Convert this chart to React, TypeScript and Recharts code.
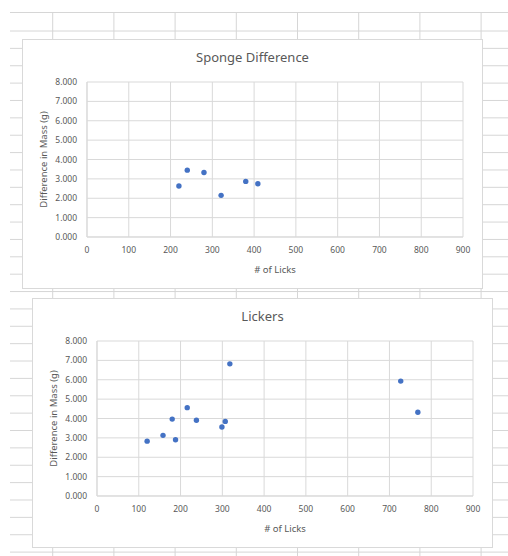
import { ScatterChart, Scatter, XAxis, YAxis, CartesianGrid } from "recharts";

// tick values
const licksTicks = [0, 100, 200, 300, 400, 500, 600, 700, 800, 900];
const massTicks = [0, 1, 2, 3, 4, 5, 6, 7, 8];

// Sponge Difference
const spongeLicks = [220, 240, 280, 321, 380, 409];
const spongeMass = [2.63, 3.45, 3.33, 2.15, 2.87, 2.75];

// Lickers
const lickerLicks = [120, 158, 180, 188, 216, 238, 299, 307, 318, 727, 768];
const lickerMass = [2.83, 3.13, 3.97, 2.9, 4.56, 3.91, 3.56, 3.85, 6.82, 5.93, 4.32];

const FONT = "'Noto Sans', sans-serif";
const TEXT = "#595959";
const GRID = "#d9d9d9";
const SHEET = "#d6d6d6";

const toPoints = (licks: number[], mass: number[]) =>
  licks.map((x, i) => ({ licks: x, mass: mass[i] }));

// spreadsheet cell lines behind the charts
function Sheet() {
  const rows = Array.from({ length: 31 }, (_, k) => 31 + k * 17.37);
  const cols = Array.from({ length: 8 }, (_, k) => 52.7 + k * 61.2);
  return (
    <svg width={508} height={556} style={{ position: "absolute", left: 0, top: 0 }}>
      <line x1={10} x2={508} y1={12.5} y2={12.5} stroke={SHEET} />
      {rows.map((y) => (
        <line key={y} x1={10} x2={508} y1={y} y2={y} stroke={SHEET} />
      ))}
      {cols.map((x) => (
        <line key={x} x1={x} x2={x} y1={12.5} y2={556} stroke={SHEET} />
      ))}
    </svg>
  );
}

interface PanelProps {
  title: string;
  licks: number[];
  mass: number[];
  left: number;
  top: number;
}

function Panel({ title, licks, mass, left, top }: PanelProps) {
  const data = toPoints(licks, mass);
  return (
    <div
      style={{
        position: "absolute",
        left,
        top,
        width: 461,
        height: 250,
        background: "#fff",
        border: `1px solid ${GRID}`,
        boxSizing: "border-box",
      }}
    >
      <div
        style={{
          position: "absolute",
          top: 8,
          left: 0,
          right: 0,
          textAlign: "center",
          fontFamily: FONT,
          fontSize: 13,
          color: TEXT,
        }}
      >
        {title}
      </div>
      <div style={{ position: "absolute", left: 0, top: 0 }}>
        <ScatterChart width={459} height={248} margin={{ top: 42, right: 19, bottom: 0, left: 0 }}>
          <CartesianGrid stroke={GRID} />
          <XAxis
            type="number"
            dataKey="licks"
            domain={[0, 900]}
            ticks={licksTicks}
            interval={0}
            height={51}
            tickLine={false}
            tickMargin={4}
            axisLine={{ stroke: GRID }}
            tick={{ fontSize: 8.5, fill: TEXT, fontFamily: FONT }}
            label={{
              value: "# of Licks",
              position: "insideBottom",
              offset: 15,
              style: { fontSize: 9.5, fill: TEXT, fontFamily: FONT },
            }}
          />
          <YAxis
            type="number"
            dataKey="mass"
            domain={[0, 8]}
            ticks={massTicks}
            interval={0}
            width={64}
            tickLine={false}
            tickMargin={4}
            axisLine={{ stroke: GRID }}
            tickFormatter={(v: number) => v.toFixed(3)}
            tick={{ fontSize: 8.5, fill: TEXT, fontFamily: FONT }}
            label={{
              value: "Difference in Mass (g)",
              angle: -90,
              position: "insideLeft",
              offset: 21,
              style: { fontSize: 9.5, fill: TEXT, fontFamily: FONT, textAnchor: "middle" },
            }}
          />
          <Scatter
            data={data}
            fill="#4472c4"
            isAnimationActive={false}
            shape={(p: any) => <circle cx={p.cx} cy={p.cy} r={2.7} fill="#4472c4" />}
          />
        </ScatterChart>
      </div>
    </div>
  );
}

export default function App() {
  return (
    <div style={{ position: "absolute", left: 0, top: 0, width: 508, height: 556, background: "#fff" }}>
      <Sheet />
      <Panel title="Sponge Difference" licks={spongeLicks} mass={spongeMass} left={22} top={39} />
      <Panel title="Lickers" licks={lickerLicks} mass={lickerMass} left={32} top={298} />
    </div>
  );
}
